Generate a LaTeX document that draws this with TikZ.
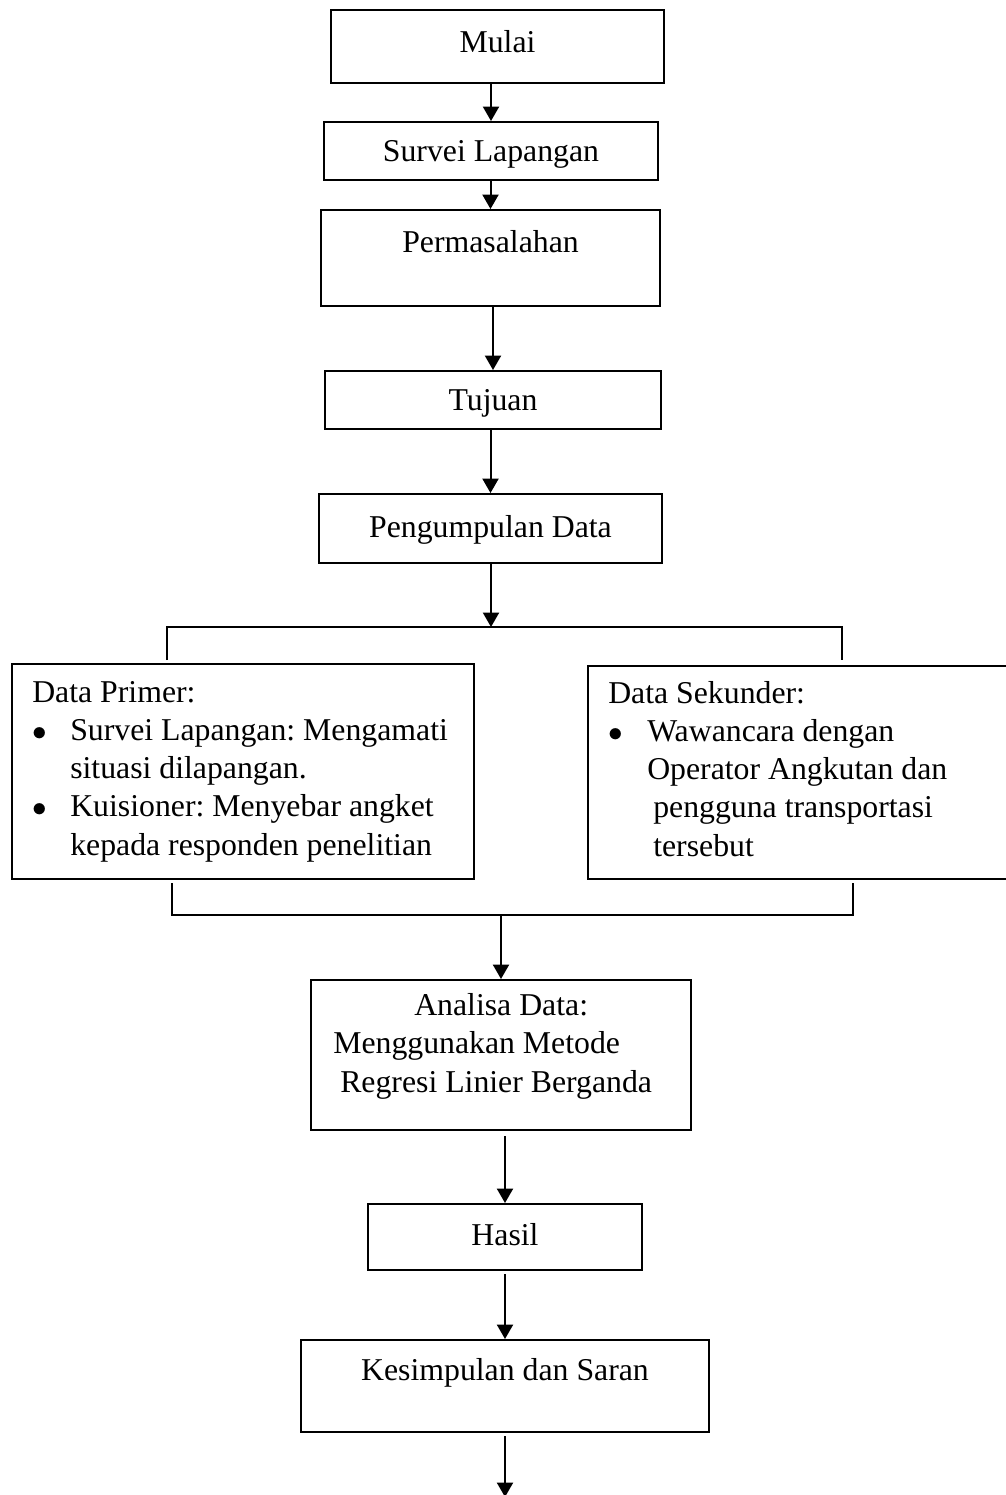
\documentclass[tikz,border=0pt]{standalone}
\usepackage{fontspec}
\setmainfont{Liberation Serif}
\usetikzlibrary{arrows.meta}
\newlength{\pxu}
\setlength{\pxu}{0.25mm}
\frenchspacing

\begin{document}
\begin{tikzpicture}[x=0.25mm, y=-0.25mm,
  font=\fontsize{22.6}{27.1}\selectfont,
  box/.style={draw, line width=0.5mm, inner sep=0pt},
  txt/.style={inner sep=0pt, align=left},
  ln/.style={line width=0.5mm},
  arr/.style={line width=0.5mm, -{Triangle[length=3.6mm, width=4mm]}}]
\useasboundingbox (0,0) rectangle (1006,1495);
% alur atas
\node[box, anchor=base, minimum width=333\pxu, text height=42\pxu, text depth=31\pxu] (mulai) at (497.5,52) {Mulai};
\node[box, anchor=base, minimum width=334\pxu, text height=39\pxu, text depth=19\pxu] (survei) at (491,161) {Survei Lapangan};
\node[box, anchor=base, minimum width=339\pxu, text height=42\pxu, text depth=54\pxu] (perm) at (490.5,252) {Permasalahan};
\node[box, anchor=base, minimum width=336\pxu, text height=39\pxu, text depth=19\pxu] (tuj) at (493,410) {Tujuan};
\node[box, anchor=base, minimum width=343\pxu, text height=43\pxu, text depth=26\pxu] (pd) at (490.5,537) {Pengumpulan Data};
\draw[arr] (survei.north |- mulai.south) -- (survei.north);
\draw[arr] (perm.north |- survei.south) -- (perm.north);
\draw[arr] (tuj.north |- perm.south) -- (tuj.north);
\draw[arr] (pd.north |- tuj.south) -- (pd.north);
% data primer dan sekunder
\node[box, anchor=north west, minimum width=462\pxu, minimum height=215\pxu] (prim) at (11,663) {};
\node[box, anchor=north west, minimum width=425\pxu, minimum height=213\pxu] (sek) at (587,665) {};
\node[txt, anchor=base west] (primtxt) at (32,855) {Data Primer:\\
  \makebox[38\pxu][l]{$\bullet$}Survei Lapangan: Mengamati\\
  \hspace*{38\pxu}situasi dilapangan.\\
  \makebox[38\pxu][l]{$\bullet$}Kuisioner: Menyebar angket\\
  \hspace*{38\pxu}kepada responden penelitian};
\node[txt, anchor=base west] (sektxt) at (608,856) {Data Sekunder:\\
  \makebox[39\pxu][l]{$\bullet$}Wawancara dengan\\
  \hspace*{39\pxu}Operator Angkutan dan\\
  \hspace*{45\pxu}pengguna transportasi\\
  \hspace*{45\pxu}tersebut};
% percabangan
\coordinate (cabang) at (491,627);
\coordinate (kiri) at (167,627);
\coordinate (kanan) at (842,627);
\coordinate (kirib) at (167,660);
\coordinate (kananb) at (842,660);
\draw[arr] (pd.south -| cabang) -- (cabang);
\draw[ln] (kirib) -- (kiri) -- (kanan) -- (kananb);
\coordinate (gabung) at (501,915);
\coordinate (kiric) at (172,883);
\coordinate (kirid) at (172,915);
\coordinate (kananc) at (853,883);
\coordinate (kanand) at (853,915);
\draw[ln] (kiric) -- (kirid) -- (kanand) -- (kananc);
% alur bawah
\node[box, anchor=north, minimum width=380\pxu, minimum height=150\pxu] (ana) at (501,979) {};
\node[txt, anchor=base west] (anatxt) at (333,1092) {\hspace*{81\pxu}Analisa Data:\\
  Menggunakan Metode\\
  \hspace*{7\pxu}Regresi Linier Berganda};
\node[box, anchor=base, minimum width=274\pxu, text height=41\pxu, text depth=25\pxu] (hasil) at (505,1245) {Hasil};
\node[box, anchor=base, minimum width=408\pxu, text height=40\pxu, text depth=52\pxu] (kes) at (505,1380) {Kesimpulan dan Saran};
\coordinate (akhir) at (505,1497);
\draw[arr] (gabung) -- (ana.north -| gabung);
\draw[arr, shorten <=5\pxu] (hasil.north |- ana.south) -- (hasil.north);
\draw[arr, shorten <=3\pxu] (kes.north |- hasil.south) -- (kes.north);
\draw[arr, shorten <=3\pxu] (kes.south) -- (akhir);
\end{tikzpicture}
\end{document}
